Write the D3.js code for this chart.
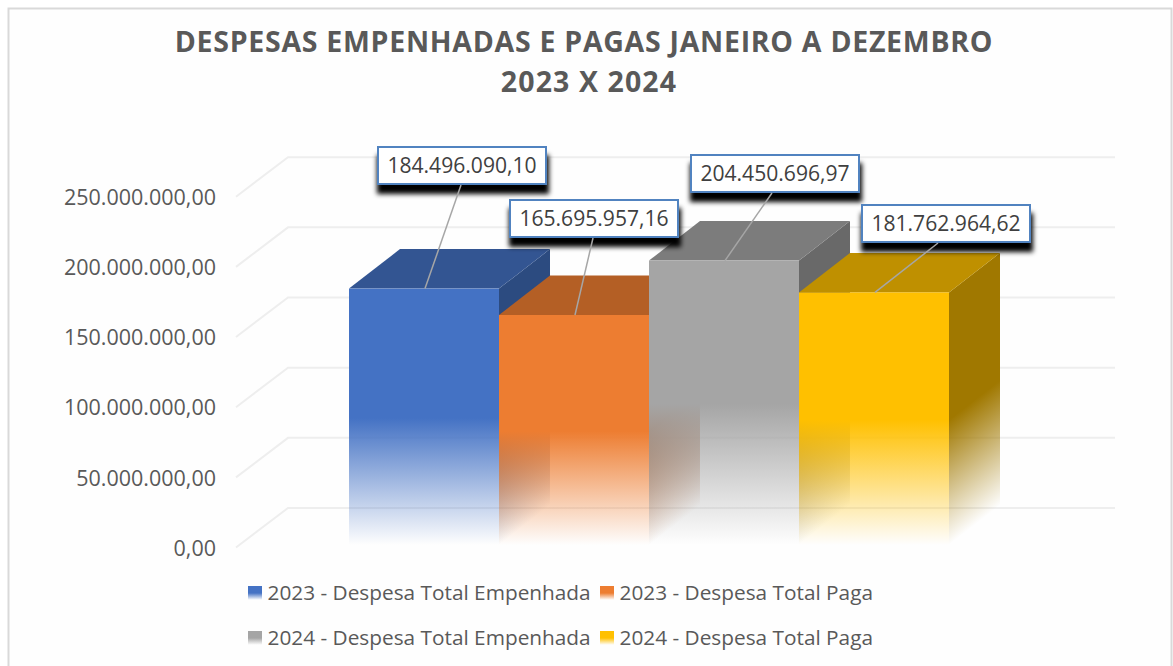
<!DOCTYPE html>
<html>
<head>
<meta charset="utf-8">
<script src="https://cdnjs.cloudflare.com/ajax/libs/d3/7.8.5/d3.min.js"></script>
<style>
  html, body { margin: 0; padding: 0; background: #fff; }
  svg { display: block; font-family: "Open Sans", sans-serif; }
</style>
</head>
<body>
<svg id="chart" width="1173" height="666"></svg>
<script>
const seriesNames = [
    "2023 - Despesa Total Empenhada",
    "2023 - Despesa Total Paga",
    "2024 - Despesa Total Empenhada",
    "2024 - Despesa Total Paga"
];
const seriesValues = [184496090.10, 165695957.16, 204450696.97, 181762964.62];
const yTicks = [0, 50000000, 100000000, 150000000, 200000000, 250000000];
const titleLines = ["DESPESAS EMPENHADAS E PAGAS JANEIRO A DEZEMBRO", "2023 X 2024"];

const frontColors = ["#4472c4", "#ed7d31", "#a5a5a5", "#ffc000"];
const topColors = ["#335592", "#b45f25", "#7c7c7c", "#bf9000"];
const sideColors = ["#2c4b80", "#a35522", "#696969", "#a07800"];

const width = 1173;
const height = 666;
const depthX = 51;   // the 3d box depth
const depthY = -39.5;

const svg = d3.select("#chart");
const defs = svg.append("defs");

const ptBr = d3.formatLocale({ decimal: ",", thousands: ".", grouping: [3], currency: ["", ""] });
const fmt = ptBr.format(",.2f");

const y = d3.scaleLinear().domain([0, 250000000]).range([547.5, 196.7]);
const x = d3.scaleBand().domain(seriesNames).range([349, 949]);

// chart frame, open at the bottom
svg.append("path")
    .attr("d", "M8.5,666V8.5H1171.5V666")
    .attr("fill", "#fefefe")
    .attr("stroke", "#d9d9d9")
    .attr("stroke-width", 2);

// title
const titleCenter = [584, 589];
const titleSpacing = [0.72, 1.1];
svg.append("g").selectAll("text")
    .data(titleLines)
    .enter().append("text")
    .attr("x", (d, i) => titleCenter[i])
    .attr("y", (d, i) => 52 + i * 40)
    .attr("text-anchor", "middle")
    .attr("font-size", 28.5)
    .attr("font-weight", 700)
    .attr("letter-spacing", (d, i) => titleSpacing[i])
    .attr("fill", "#595959")
    .text(d => d);

// gridlines: slanted wall part + back wall
const grid = svg.append("g");
yTicks.forEach(t => {
    grid.append("path")
        .attr("d", `M236,${y(t)}L${236 + 52},${y(t) + depthY}H1115`)
        .attr("fill", "none")
        .attr("stroke", "#eeeeee")
        .attr("stroke-width", 2);
});

// y axis, only the labels are shown
const axis = svg.append("g")
    .attr("transform", "translate(216,0)")
    .call(d3.axisLeft(y).tickValues(yTicks).tickFormat(fmt).tickSize(0).tickPadding(0));
axis.select(".domain").remove();
axis.selectAll("text")
    .attr("font-family", '"Open Sans", sans-serif')
    .attr("font-size", 21.5)
    .attr("fill", "#595959")
    .attr("dy", "0.36em")
    .attr("y", 0);

// gradients
function addFade(id, color, attrs) {
    const g = defs.append("linearGradient").attr("id", id);
    Object.keys(attrs).forEach(k => g.attr(k, attrs[k]));
    g.append("stop").attr("offset", "0%").attr("stop-color", color).attr("stop-opacity", 1);
    g.append("stop").attr("offset", "50%").attr("stop-color", color).attr("stop-opacity", 1);
    g.append("stop").attr("offset", "99%").attr("stop-color", color).attr("stop-opacity", 0);
}

const bars = svg.append("g");
seriesNames.forEach((name, i) => {
    const x0 = x(name);
    const x1 = x0 + x.bandwidth();
    const yTop = y(seriesValues[i]);
    const yBase = y(0);

    addFade("front" + i, frontColors[i], { x1: 0, y1: 0, x2: 0, y2: 1 });

    // side fades along the box slant, so it ends on the lower diagonal edge
    const len = (yBase - yTop);
    const nx = -depthY, ny = depthX, nl = Math.hypot(nx, ny);
    const proj = len * ny / nl;
    addFade("side" + i, sideColors[i], {
        gradientUnits: "userSpaceOnUse",
        x1: x1, y1: yTop,
        x2: x1 + proj * nx / nl, y2: yTop + proj * ny / nl
    });

    bars.append("path")
        .attr("d", `M${x1},${yTop}l${depthX},${depthY}V${yBase + depthY}L${x1},${yBase}Z`)
        .attr("fill", `url(#side${i})`);
    bars.append("path")
        .attr("d", `M${x0},${yTop}l${depthX},${depthY}H${x1 + depthX}L${x1},${yTop}Z`)
        .attr("fill", topColors[i]);
    bars.append("rect")
        .attr("x", x0)
        .attr("y", yTop)
        .attr("width", x.bandwidth())
        .attr("height", yBase - yTop)
        .attr("fill", `url(#front${i})`);
});

// data labels with leader lines
const shadow = defs.append("filter").attr("id", "labelShadow")
    .attr("x", "-10%").attr("y", "-30%").attr("width", "120%").attr("height", "180%");
shadow.append("feGaussianBlur").attr("stdDeviation", 2.8);

const labelBoxW = 168;
const labelBoxH = 37;
const labelLeft = [378, 510, 691, 862];
const labelTop = [147, 200, 155, 205];
const leaderTopX = [461, 593, 772, 938];
const leaderFootX = [425, 575, 725, 875];

const labels = svg.append("g");
seriesValues.forEach((v, i) => {
    // shadow first, the lines run over it
    labels.append("rect")
        .attr("x", labelLeft[i] - 1)
        .attr("y", labelTop[i] + 8)
        .attr("width", labelBoxW + 4)
        .attr("height", labelBoxH + 2)
        .attr("fill", "#000")
        .attr("filter", "url(#labelShadow)");
    labels.append("rect")
        .attr("x", labelLeft[i])
        .attr("y", labelTop[i])
        .attr("width", labelBoxW)
        .attr("height", labelBoxH)
        .attr("fill", "#fff")
        .attr("stroke", "#5183c0")
        .attr("stroke-width", 2);
    labels.append("text")
        .attr("x", labelLeft[i] + labelBoxW / 2)
        .attr("y", labelTop[i] + labelBoxH / 2 + 7.5)
        .attr("text-anchor", "middle")
        .attr("font-size", 21.1)
        .attr("fill", "#404040")
        .text(fmt(v));
    labels.append("line")
        .attr("x1", leaderTopX[i])
        .attr("y1", labelTop[i] + labelBoxH + 1)
        .attr("x2", leaderFootX[i])
        .attr("y2", y(v))
        .attr("stroke", "#a6a6a6")
        .attr("stroke-width", 1.5);
});

// legend
const legendX = [248, 600];
const legendY = [586, 631];
const legend = svg.append("g");
seriesNames.forEach((name, i) => {
    const col = i % 2;
    const row = Math.floor(i / 2);
    addFade("legend" + i, frontColors[i], { x1: 0, y1: 0, x2: 0, y2: 1 });
    legend.append("rect")
        .attr("x", legendX[col])
        .attr("y", legendY[row])
        .attr("width", 14)
        .attr("height", 14)
        .attr("fill", `url(#legend${i})`);
    legend.append("text")
        .attr("x", legendX[col] + 19.5)
        .attr("y", legendY[row] + 14)
        .attr("font-size", 20.8)
        .attr("fill", "#595959")
        .text(name);
});
</script>
</body>
</html>
